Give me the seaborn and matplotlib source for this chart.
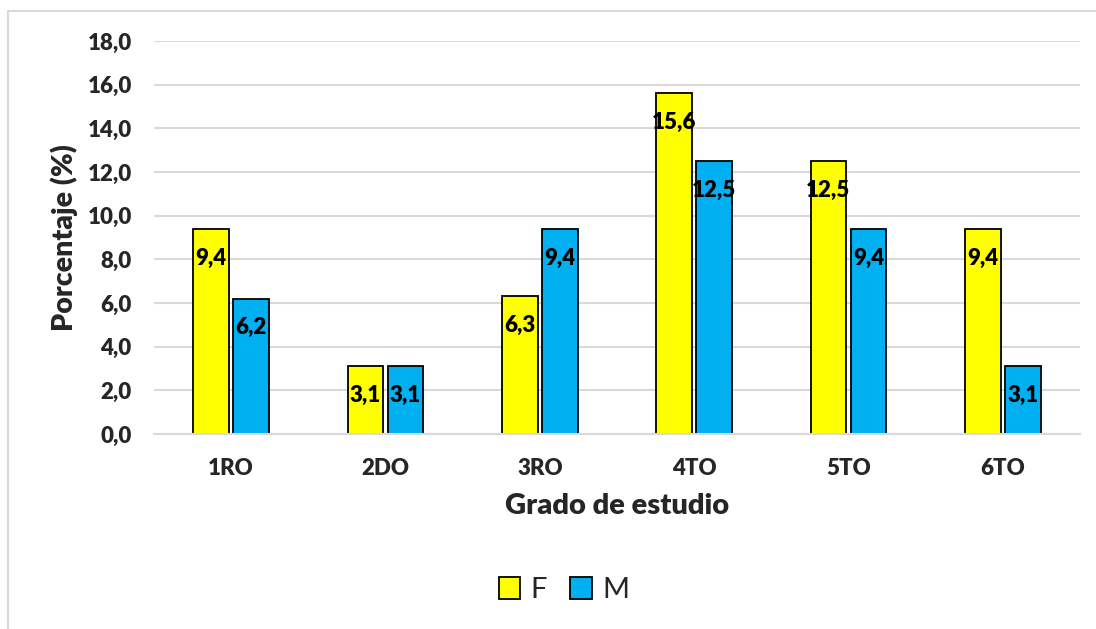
import matplotlib
matplotlib.use("Agg")
import matplotlib.pyplot as plt
import seaborn as sns
import pandas as pd
from matplotlib.patches import Patch
from matplotlib.lines import Line2D

categories = ["1RO", "2DO", "3RO", "4TO", "5TO", "6TO"]
values_F = [9.4, 3.1, 6.3, 15.6, 12.5, 9.4]
values_M = [6.2, 3.1, 9.4, 12.5, 9.4, 3.1]
series = ["F", "M"]
colors = {"F": "#FFFF00", "M": "#00B0F0"}
yticks = [0, 2, 4, 6, 8, 10, 12, 14, 16, 18]

df = pd.DataFrame({
    "Grado": categories * 2,
    "Sexo": ["F"] * len(categories) + ["M"] * len(categories),
    "Valor": values_F + values_M,
})

sns.set_theme(style="white")
FONT = ["Lato", "DejaVu Sans"]
plt.rcParams["font.family"] = FONT
W = "heavy"

fig = plt.figure(figsize=(10.96, 6.29), dpi=100)
ax = fig.add_axes([154 / 1096, 1 - 434 / 629, (1080 - 154) / 1096, (434 - 41) / 629])

sns.barplot(data=df, x="Grado", y="Valor", hue="Sexo", order=categories,
            hue_order=series, palette=colors, width=0.52, gap=0.11,
            edgecolor="black", linewidth=1.3, saturation=1, ax=ax, legend=False)

ax.set_ylim(0, 18)
ax.set_xlim(-0.5, len(categories) - 0.5)
ax.set_yticks(yticks)
ax.set_yticklabels([f"{v:.1f}".replace(".", ",") for v in yticks],
                   fontsize=16, fontweight=W)
ax.set_xticks(range(len(categories)))
ax.set_xticklabels(categories, fontsize=16, fontweight=W)
ax.tick_params(axis="both", length=0)
ax.tick_params(axis="y", pad=16)
ax.tick_params(axis="x", pad=17)

ax.grid(axis="y", color="#d9d9d9", linewidth=1.5)
ax.set_axisbelow(True)
for s in ["top", "right", "left"]:
    ax.spines[s].set_visible(False)
ax.spines["bottom"].set_color("#d9d9d9")
ax.spines["bottom"].set_linewidth(1.5)

ax.set_xlabel("Grado de estudio", fontsize=21, fontweight=W, labelpad=10)
ax.set_ylabel("Porcentaje (%)", fontsize=20.5, fontweight=W, labelpad=7)

for cont in ax.containers:
    for b in cont:
        h = b.get_height()
        ax.annotate(f"{h:.1f}".replace(".", ","),
                    xy=(b.get_x() + b.get_width() / 2, h), xycoords="data",
                    xytext=(0, -21), textcoords="offset points",
                    ha="center", va="center", fontsize=16, fontweight=W,
                    color="black")

handles = [Patch(facecolor=colors[s], edgecolor="black", linewidth=1.3, label=s)
           for s in series]
fig.legend(handles=handles, loc="center", bbox_to_anchor=(564 / 1096, 1 - 590 / 629),
           ncol=2, frameon=False, fontsize=21, handlelength=0.75, handleheight=0.75,
           handletextpad=0.35, columnspacing=0.8)

fig.add_artist(Line2D([8 / 1096, 1.0], [1 - 11 / 629, 1 - 11 / 629],
                      transform=fig.transFigure, color="#d9d9d9", linewidth=1.5))
fig.add_artist(Line2D([8 / 1096, 8 / 1096], [0.0, 1 - 11 / 629],
                      transform=fig.transFigure, color="#d9d9d9", linewidth=1.5))

fig.savefig("out.png", dpi=100, facecolor="white")
